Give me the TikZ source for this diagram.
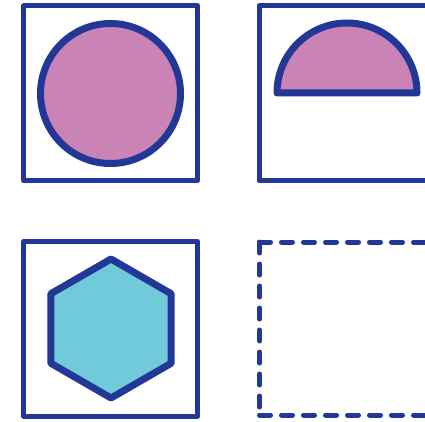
\documentclass[tikz,border=0pt]{standalone}
\usepackage{tikz}
\definecolor{shInk}{HTML}{233797}
\definecolor{shPink}{HTML}{C983B5}
\definecolor{shCyan}{HTML}{70CAD9}
\tikzset{
 board/.style={line cap=round,line join=round},
 frame/.style={draw=shInk,line width=5pt},
 dashframe/.style={draw=shInk,line width=5pt,dash pattern=on 11pt off 11pt},
 solid shape/.style={draw=shInk,line width=7pt},
 pinkshape/.style={solid shape,fill=shPink},
 cyanshape/.style={solid shape,fill=shCyan}
}

\begin{document}
\begin{tikzpicture}[board,x=1pt,y=-1pt]
 \useasboundingbox (0,0) rectangle (425,422);
 % frames
 \foreach \x/\y in {23.5/6,259/6,23.5/241.5}{\draw[frame] (\x,\y) rectangle ++(174,174.5);}
 \coordinate (tl) at (259.5,242);
 \coordinate (tr) at (433,242);
 \coordinate (bl) at (259.5,415);
 \coordinate (br) at (433,415);
 \draw[dashframe] (tl)--(tr); \draw[dashframe] (tl)--(bl); \draw[dashframe] (bl)--(br);
 % shapes
 \draw[pinkshape] (110.5,93.5) circle[radius=70];
 \draw[pinkshape] (277,93) arc[start angle=180,end angle=360,radius=70] -- cycle;
 \draw[cyanshape,shift={(111,328.5)}] (90:69.5)--(150:69.5)--(210:69.5)--(270:69.5)--(330:69.5)--(30:69.5)--cycle;
\end{tikzpicture}
\end{document}
